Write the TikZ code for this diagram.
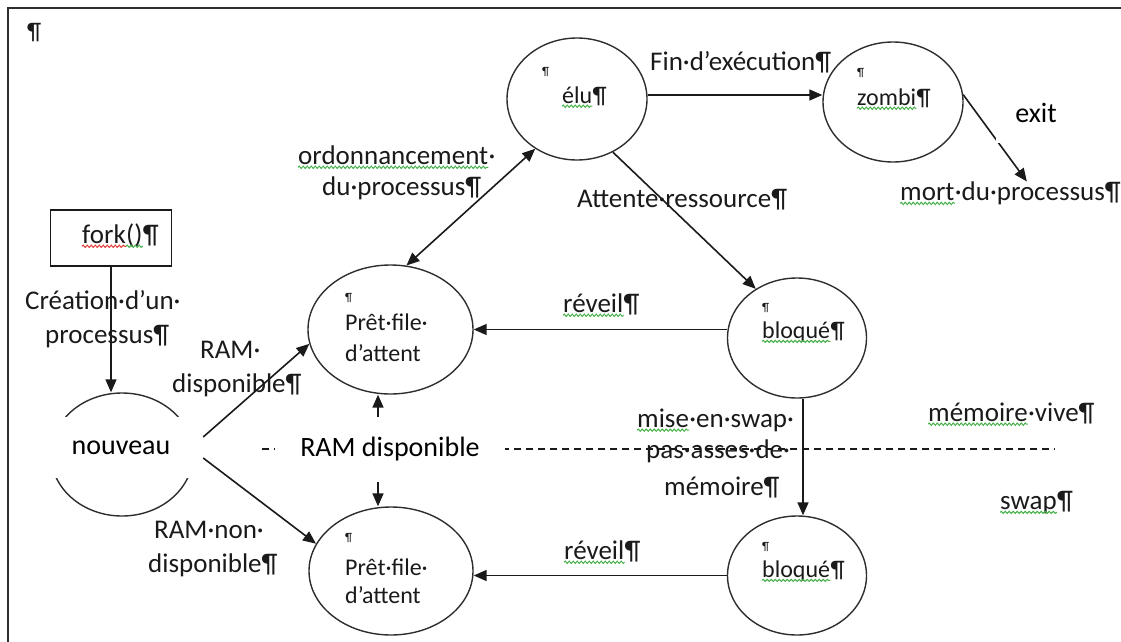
\documentclass[tikz,border=0pt]{standalone}
\usepackage{fontspec}
\setmainfont{Carlito}
\usetikzlibrary{arrows.meta,shapes.geometric,decorations.pathmorphing}
\definecolor{ink}{HTML}{1A1A1A}
\definecolor{edge}{HTML}{2E2E2E}
\definecolor{wavyg}{HTML}{43B047}
\definecolor{wavyr}{HTML}{E53935}

\newcommand\lblfont{\fontsize{27}{32}\selectfont}
\newcommand\stfont{\fontsize{24}{29}\selectfont}

\tikzset{
  state/.style={ellipse, draw=edge, line width=1.4pt, inner sep=0pt},
  arr/.style={draw=ink, line width=1.6pt, -{Triangle[length=13pt,width=11pt]}},
  darr/.style={draw=ink, line width=1.6pt, {Triangle[length=13pt,width=11pt]}-{Triangle[length=13pt,width=11pt]}},
  lbl/.style={inner sep=0pt, anchor=west, text=ink, font=\lblfont},
  stxt/.style={inner sep=0pt, anchor=west, text=ink, font=\stfont},
  after/.style={inner sep=0pt, anchor=base west, text=ink},
  pmark/.style={inner sep=0pt, anchor=west, text=ink, font=\fontsize{12}{14}\selectfont},
  big/.style={inner sep=0pt, text=black, font=\fontsize{28}{34}\selectfont},
  whitebox/.style={fill=white, inner sep=0pt},
  sepline/.style={draw=ink, line width=1.2pt, dash pattern=on 7pt off 5pt},
  squigline/.style={decorate, decoration={snake, segment length=4pt, amplitude=1.1pt}, line width=1pt},
}
% spell-check squiggle under a word node: colour, node
\newcommand\squig[2]{%
  \draw[squigline, draw=#1] ([yshift=-3pt]#2.base west) -- ([yshift=-3pt]#2.base east);}

\begin{document}
\begin{tikzpicture}[x=1pt, y=-1pt]
\useasboundingbox (0,0) rectangle (1121,642);

% page frame
\draw[draw=edge, line width=2pt] (8,642) -- (8,8) -- (1121,8);
\node[pmark, font=\fontsize{24}{29}\selectfont] (pil) at (27,33) {¶};

% boundary between RAM and swap
\coordinate (sepL) at (262,449);
\coordinate (sepR) at (1055,449);
\draw[sepline] (sepL) -- (sepR);

% states
\node[state, minimum width=140pt, minimum height=122pt] (elu) at (577,99) {};
\node[state, minimum width=140pt, minimum height=120pt] (zombi) at (893,102) {};
\node[state, minimum width=165pt, minimum height=129pt] (pret1) at (390.5,329.5) {};
\node[state, minimum width=164pt, minimum height=128pt] (pret2) at (391,571) {};
\node[state, minimum width=139pt, minimum height=120pt] (bloque1) at (797,338) {};
\node[state, minimum width=139pt, minimum height=119pt] (bloque2) at (797,575.5) {};
\node[state, minimum width=142pt, minimum height=123pt] (nouvc) at (122,454.5) {};

% fork box
\node[draw=ink, line width=1.5pt, minimum width=121pt, minimum height=56pt, inner sep=0pt] (fork) at (111,238) {};
\node[lbl] (forkw) at (82,234) {fork};
\node[after, font=\lblfont] (forkp) at (forkw.base east) {()};
\node[after, font=\lblfont] (forkm) at (forkp.base east) {¶};

% state texts
\node[pmark] (elup) at (542,72) {¶};
\node[stxt] (eluw) at (562,95) {élu};
\node[after, font=\stfont] (elum) at (eluw.base east) {¶};
\node[pmark] (zombip) at (857,73) {¶};
\node[stxt] (zombiw) at (857,97) {zombi};
\node[after, font=\stfont] (zombim) at (zombiw.base east) {¶};
\node[pmark] (pret1p) at (345,298) {¶};
\node[stxt] (pret1a) at (345,322) {Prêt·file·};
\node[stxt] (pret1b) at (345,353) {d’attent};
\node[pmark] (pret2p) at (345,538) {¶};
\node[stxt] (pret2a) at (345,567) {Prêt·file·};
\node[stxt] (pret2b) at (345,595) {d’attent};
\node[pmark] (bloque1p) at (762,308) {¶};
\node[stxt] (bloque1w) at (762,332) {bloqué};
\node[after, font=\stfont] (bloque1m) at (bloque1w.base east) {¶};
\node[pmark] (bloque2p) at (762,547) {¶};
\node[stxt] (bloque2w) at (762,571) {bloqué};
\node[after, font=\stfont] (bloque2m) at (bloque2w.base east) {¶};

% labels
\node[lbl] (cre1) at (25,300) {Création·d’un·};
\node[lbl] (cre2) at (45,337) {processus¶};
\node[lbl] (rd1) at (200,350) {RAM·};
\node[lbl] (rd2) at (172,385) {disponible¶};
\node[lbl] (rn1) at (154,530) {RAM·non·};
\node[lbl] (rn2) at (148,565) {disponible¶};
\node[lbl] (ord1w) at (298,155) {ordonnancement};
\node[after, font=\lblfont] (ord1r) at (ord1w.base east) {·};
\node[lbl] (ord2) at (322,188) {du·processus¶};
\node[lbl] (rev1w) at (563,303) {réveil};
\node[after, font=\lblfont] (rev1m) at (rev1w.base east) {¶};
\node[lbl] (rev2w) at (564,550) {réveil};
\node[after, font=\lblfont] (rev2m) at (rev2w.base east) {¶};
\node[lbl] (fin) at (650,62) {Fin·d’exécution¶};
\node[lbl] (att) at (577,200) {Attente·ressource¶};
\node[lbl] (mortw) at (900,192) {mort};
\node[after, font=\lblfont] (mort) at (mortw.base east) {·du·processus¶};
\node[lbl] (mis1w) at (637,418) {mise};
\node[after, font=\lblfont] (mis1r) at (mis1w.base east) {·en·swap·};
\node[lbl] (mis2) at (646,451) {pas·asses·de·};
\node[lbl] (mis3) at (664,487) {mémoire¶};
\node[lbl] (mvivw) at (928,412) {mémoire};
\node[after, font=\lblfont] (mvivr) at (mvivw.base east) {·vive¶};
\node[lbl] (swpw) at (1000,505) {swap};
\node[after, font=\lblfont] (swpm) at (swpw.base east) {¶};

% spell-check squiggles
\squig{wavyr}{forkw}
\squig{wavyg}{forkp}
\squig{wavyg}{eluw}
\squig{wavyg}{zombiw}
\squig{wavyg}{bloque1w}
\squig{wavyg}{bloque2w}
\squig{wavyg}{ord1w}
\squig{wavyg}{rev1w}
\squig{wavyg}{rev2w}
\squig{wavyg}{mortw}
\squig{wavyg}{mis1w}
\squig{wavyg}{mvivw}
\squig{wavyg}{swpw}

% text boxes drawn over lines
\node[whitebox, big, minimum width=164pt, minimum height=61pt] (nouveau) at (121,447.5) {nouveau};
\node[whitebox, big, minimum width=230pt, minimum height=65pt] (ramdisp) at (390,449.5) {RAM disponible};

% transitions
\draw[arr] (fork.south) -- (fork.south |- nouvc.north);
\draw[arr] ([yshift=10.5pt]nouveau.east) -- (pret1.190);
\draw[arr] ([yshift=-10.5pt]nouveau.east) -- (pret2.160);
\draw[arr] ([xshift=-12pt]ramdisp.north) -- ([xshift=-12pt]ramdisp.north |- pret1.south);
\draw[arr] ([xshift=-12pt]ramdisp.south) -- ([xshift=-12pt]ramdisp.south |- pret2.north);
\draw[darr] (pret1.76) -- (elu.230);
\draw[arr] (elu.304) -- (bloque1.130);
\draw[arr] ([yshift=4pt]elu.east) -- ([yshift=4pt]elu.east -| zombi.west);
\draw[arr] (zombi.6) -- ([xshift=-11pt]mort.north);
\draw[arr] (bloque1.west |- pret1.east) -- (pret1.east);
\draw[arr] (bloque2.west) -- (bloque2.west -| pret2.east);
\draw[arr] ([xshift=6pt]bloque1.south) -- ([xshift=6pt]bloque1.south |- bloque2.north);

\node[whitebox, big, minimum width=80pt, minimum height=60pt] (exit) at (1036,113) {exit};
\end{tikzpicture}
\end{document}
